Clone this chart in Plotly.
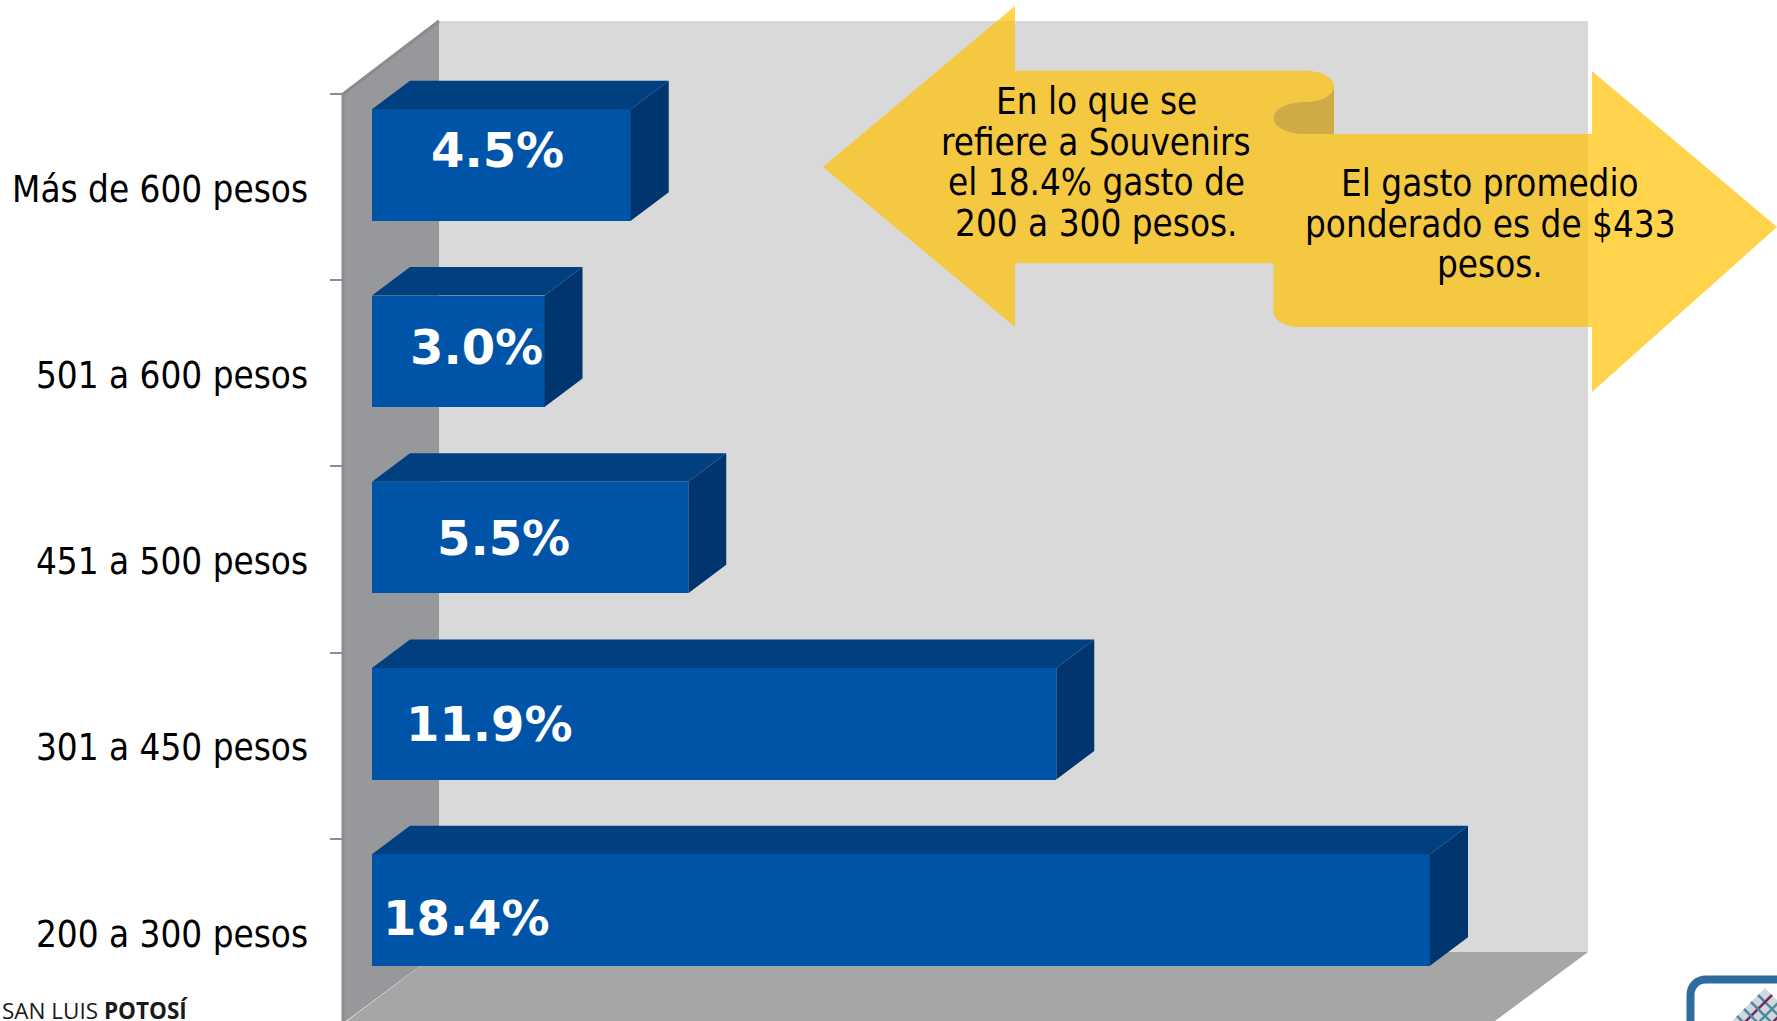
import plotly.graph_objects as go

W, H = 1777, 1021

# ---- data ----
categories = ["Más de 600 pesos", "501 a 600 pesos", "451 a 500 pesos", "301 a 450 pesos", "200 a 300 pesos"]
values = [4.5, 3.0, 5.5, 11.9, 18.4]
value_labels = ["4.5%", "3.0%", "5.5%", "11.9%", "18.4%"]
band_positions = [0, 1, 2, 3, 4]
band_edges = [-0.5, 0.5, 1.5, 2.5, 3.5]

# ---- scale: pixels per unit, used only to set the axis ranges ----
X0_PX, UX = 372.0, 57.5          # value 0 and px per value
Y0_PX, UY = 187.0, 186.25        # band 0 centre and px per band
PLOT_LEFT = 343.0
BAR_W = 111.5 / UY
BAR_SHIFT = -22.0 / UY
LABEL_SHIFT = 1.8 / UY
DX, DY = 38.0 / UX, -28.5 / UY   # depth of the 3-D bars

FONT = "DejaVu Sans Condensed, Tahoma, DejaVu Sans"
BOLD_FONT = "DejaVu Sans"
FRONT, TOP, SIDE = "#0054A8", "#003F80", "#00356F"


def px(x):
    return x / W


def py(y):
    return 1 - y / H


def path(points, close=True):
    out = []
    for seg in points:
        if seg[0] == "C":
            _, a, b, c, d, e, f = seg
            out.append(f"C {px(a):.5f},{py(b):.5f} {px(c):.5f},{py(d):.5f} {px(e):.5f},{py(f):.5f}")
        else:
            cmd, a, b = seg
            out.append(f"{cmd} {px(a):.5f},{py(b):.5f}")
    return " ".join(out) + (" Z" if close else "")


def poly(coords, close=True):
    return path([("M" if i == 0 else "L", x, y) for i, (x, y) in enumerate(coords)], close)


fig = go.Figure()

# front faces
fig.add_trace(go.Bar(
    y=band_positions, x=values, orientation="h", width=BAR_W,
    offset=BAR_SHIFT - BAR_W / 2,
    marker=dict(color=FRONT, line=dict(width=0)), hoverinfo="skip", showlegend=False,
))

# top and side faces, derived from the values
for pos, val in zip(band_positions, values):
    t = pos + BAR_SHIFT - BAR_W / 2
    b = pos + BAR_SHIFT + BAR_W / 2
    fig.add_trace(go.Scatter(
        x=[0, val, val + DX, DX, 0], y=[t, t, t + DY, t + DY, t],
        mode="lines", fill="toself", fillcolor=TOP, line=dict(width=0),
        hoverinfo="skip", showlegend=False))
    fig.add_trace(go.Scatter(
        x=[val, val + DX, val + DX, val, val], y=[t, t + DY, b + DY, b, t],
        mode="lines", fill="toself", fillcolor=SIDE, line=dict(width=0),
        hoverinfo="skip", showlegend=False))

shapes = [
    # back wall
    dict(type="path", path=poly([(439, 21), (1588, 21), (1588, 952), (439, 952)]),
         fillcolor="#D9D9D9", line=dict(width=0), layer="below"),
    # floor
    dict(type="path", path=poly([(439, 952), (1588, 952), (1495, 1021), (343, 1021), (343, 1024)]),
         fillcolor="#A6A6A6", line=dict(width=0), layer="below"),
    # side wall
    dict(type="path", path=poly([(343, 94), (439, 21), (439, 952), (346, 1021), (343, 1021)]),
         fillcolor="#97989C", line=dict(width=0), layer="below"),
    # side wall edges
    dict(type="path", path=poly([(343, 1021), (343, 94), (439, 21)], close=False),
         line=dict(color="#8B8C8E", width=3), layer="below"),
    # double arrow callout
    dict(type="path", path=path([
        ("M", 823, 167), ("L", 1015, 6), ("L", 1015, 70.7), ("L", 1305, 70.7),
        ("C", 1321, 70.7, 1334, 77.5, 1334, 86),
        ("C", 1334, 95, 1321, 102, 1304, 102),
        ("C", 1287, 102, 1273.5, 109, 1273.5, 118),
        ("C", 1273.5, 127, 1287, 134, 1304, 134),
        ("L", 1592, 134), ("L", 1592, 71), ("L", 1777, 227), ("L", 1592, 392), ("L", 1592, 327),
        ("L", 1299, 327),
        ("C", 1285, 327, 1273.5, 320, 1273.5, 312),
        ("L", 1273.5, 263.3), ("L", 1015, 263.3), ("L", 1015, 327),
    ]), fillcolor="#FFC000", opacity=0.7, line=dict(width=0), layer="above"),
    # fold of the callout
    dict(type="path", path=path([
        ("M", 1334, 86),
        ("C", 1334, 95, 1321, 102, 1304, 102),
        ("C", 1287, 102, 1273.5, 109, 1273.5, 118),
        ("C", 1273.5, 127, 1287, 134, 1304, 134),
        ("L", 1334, 134),
    ]), fillcolor="#CFAB45", line=dict(width=0), layer="above"),
    # logo frame
    dict(type="path", path=path([
        ("M", 1690.5, 1030), ("L", 1690.5, 995),
        ("C", 1690.5, 986, 1697, 979.5, 1706, 979.5), ("L", 1790, 979.5),
    ], close=False), line=dict(color="#2F6B9E", width=8), layer="above"),
    # logo diamond
    dict(type="path", path=poly([(1765, 988), (1800, 1023), (1765, 1058), (1730, 1023)]),
         fillcolor="#D3D7DD", line=dict(width=0), layer="above"),
]

# logo weave
for k in range(1, 5):
    shapes.append(dict(type="path", path=poly([(1765 - 7 * k, 988 + 7 * k), (1765 - 7 * k + 40, 988 + 7 * k + 40)], close=False),
                       line=dict(color="#4E8A9E", width=2.5), layer="above"))
    shapes.append(dict(type="path", path=poly([(1765 + 7 * k, 988 + 7 * k), (1765 + 7 * k - 40, 988 + 7 * k + 40)], close=False),
                       line=dict(color="#6E2F5E" if k % 2 else "#4E8A9E", width=2.5), layer="above"))

for s in shapes:
    s["xref"] = "paper"
    s["yref"] = "paper"

annotations = []


def label(text, x, y, size, color="#000000", bold=False, family=FONT, align="center", xanchor="center"):
    annotations.append(dict(
        text=f"<b>{text}</b>" if bold else text, x=px(x), y=py(y), xref="paper", yref="paper",
        showarrow=False, xanchor=xanchor, yanchor="middle", align=align,
        font=dict(size=size, color=color, family=family)))


for txt, x, y in zip(value_labels,
                     [498, 477, 503, 490, 466],
                     [150, 347, 537.5, 723.5, 918]):
    label(txt, x, y, 48, "#FFFFFF", bold=True, family=BOLD_FONT)

for txt, y in zip(["En lo que se", "refiere a Souvenirs", "el 18.4% gasto de", "200 a 300 pesos."],
                  [102, 143, 183, 224]):
    label(txt, 1096, y, 36.5)
for txt, y in zip(["El gasto promedio", "ponderado es de $433", "pesos."], [184, 224.5, 265]):
    label(txt, 1490, y, 36.5)

label("SAN LUIS <b>POTOSÍ</b>", 0, 1010, 22.5, "#1A1A1A", family="Open Sans", xanchor="left")

fig.update_layout(
    width=W, height=H, margin=dict(l=0, r=0, t=0, b=0), autosize=False,
    paper_bgcolor="#FFFFFF", plot_bgcolor="rgba(0,0,0,0)",
    bargap=0, showlegend=False, shapes=shapes, annotations=annotations,
    xaxis=dict(domain=[PLOT_LEFT / W, 1], range=[(PLOT_LEFT - X0_PX) / UX, (W - X0_PX) / UX],
               visible=False, fixedrange=True),
    yaxis=dict(domain=[0, 1], range=[(H - Y0_PX) / UY, -Y0_PX / UY], fixedrange=True,
               tickmode="array", tickvals=[p + LABEL_SHIFT for p in band_positions], ticktext=categories,
               ticks="", showgrid=False, zeroline=False, showline=False, ticklabelstandoff=34,
               tickfont=dict(size=36.5, color="#000000", family=FONT),
               minor=dict(tickmode="array", tickvals=band_edges, ticks="outside", ticklen=12,
                          tickwidth=2, tickcolor="#8B8C8E", showgrid=False)),
)

fig.write_html("out.html", config=dict(displayModeBar=False),
               post_script="document.body.style.margin='0';document.body.style.overflow='hidden';")
